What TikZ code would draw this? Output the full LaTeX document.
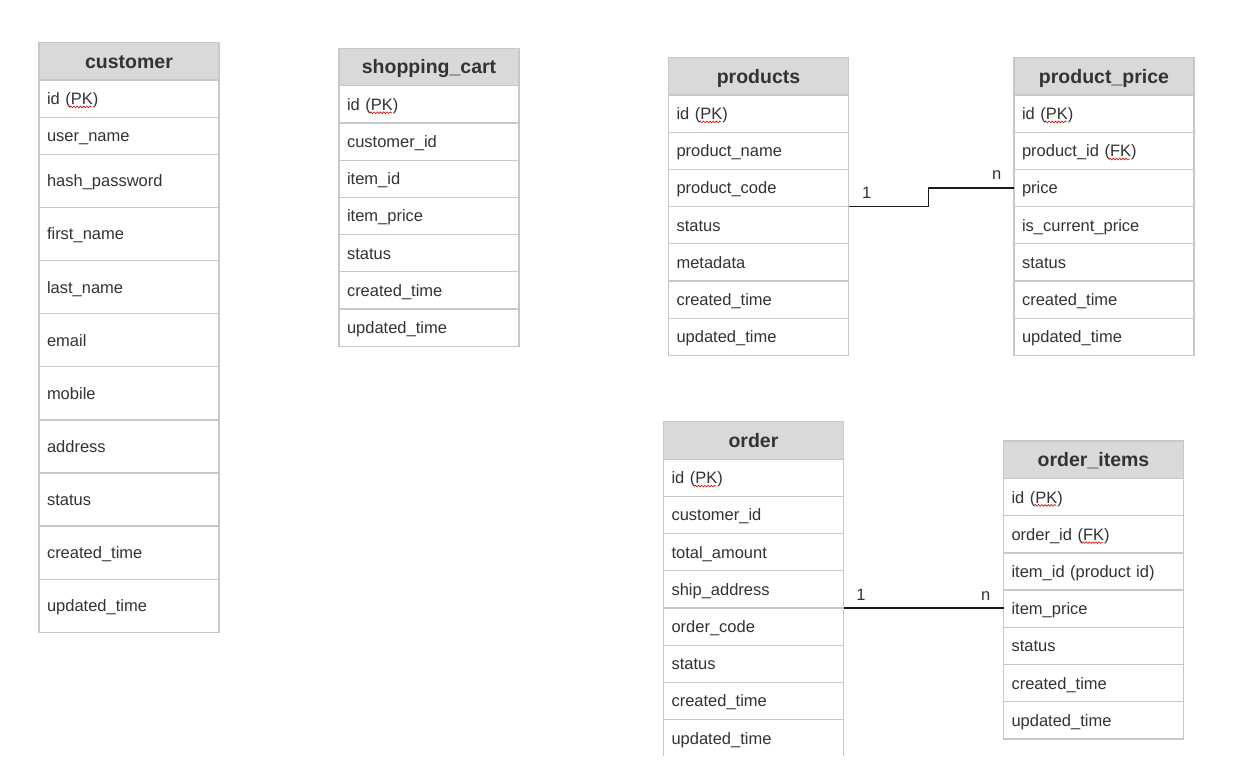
\documentclass[tikz,border=0pt]{standalone}
\usepackage{fontspec}
\setmainfont{Liberation Sans}
\usetikzlibrary{decorations.pathmorphing,calc}
\definecolor{hdr}{HTML}{D9D9D9}
\definecolor{bdr}{HTML}{C8C8C8}
\definecolor{txt}{HTML}{333333}
\definecolor{lnk}{HTML}{1A1A1A}
\newcommand\sqg[3]{\draw[squig] ([xshift=#2pt,yshift=-2.4pt]#1.base west) -- ++(#3,0);}
\begin{document}
\begin{tikzpicture}[x=1pt,y=-1pt,
  cell/.style={rectangle, draw=bdr, line width=1.3pt, fill=white, outer sep=0pt,
    inner xsep=8pt, inner ysep=0pt, minimum width=180pt, text width=164pt,
    align=left, text=txt, font=\fontsize{16.5}{19}\selectfont,
    text height=11.8pt, text depth=0pt, anchor=north west},
  hd/.style={cell, fill=hdr, align=center, font=\bfseries\fontsize{19.5}{22}\selectfont,
    text height=13.6pt, minimum height=37.5pt},
  r/.style={minimum height=37.2pt},
  rb/.style={minimum height=53.1pt},
  lbl/.style={text=txt, font=\fontsize{16.5}{19}\selectfont, inner sep=0pt, anchor=base},
  link/.style={draw=lnk, line width=1.3pt},
  squig/.style={draw=red!85!black, line width=0.6pt, decorate,
    decoration={snake, amplitude=0.9pt, segment length=3.2pt}}
]
\fill[white] (0,0) rectangle (1237,763);
\useasboundingbox (0,0) rectangle (1237,763);

% customer
\node[hd] (c0) at (39,42.5) {customer};
\node[cell,r] (c1) at (c0.south west) {id (PK)};
\node[cell,r] (c2) at (c1.south west) {user\_name};
\node[cell,rb] (c3) at (c2.south west) {hash\_password};
\node[cell,rb] (c4) at (c3.south west) {first\_name};
\node[cell,rb] (c5) at (c4.south west) {last\_name};
\node[cell,rb] (c6) at (c5.south west) {email};
\node[cell,rb] (c7) at (c6.south west) {mobile};
\node[cell,rb] (c8) at (c7.south west) {address};
\node[cell,rb] (c9) at (c8.south west) {status};
\node[cell,rb] (c10) at (c9.south west) {created\_time};
\node[cell,rb] (c11) at (c10.south west) {updated\_time};
\sqg{c1}{30.9}{22}

% shopping_cart
\node[hd] (s0) at (339,48.3) {shopping\_cart};
\node[cell,r] (s1) at (s0.south west) {id (PK)};
\node[cell,r] (s2) at (s1.south west) {customer\_id};
\node[cell,r] (s3) at (s2.south west) {item\_id};
\node[cell,r] (s4) at (s3.south west) {item\_price};
\node[cell,r] (s5) at (s4.south west) {status};
\node[cell,r] (s6) at (s5.south west) {created\_time};
\node[cell,r] (s7) at (s6.south west) {updated\_time};
\sqg{s1}{30.9}{22}

% products
\node[hd] (p0) at (668.5,57.5) {products};
\node[cell,r] (p1) at (p0.south west) {id (PK)};
\node[cell,r] (p2) at (p1.south west) {product\_name};
\node[cell,r] (p3) at (p2.south west) {product\_code};
\node[cell,r] (p4) at (p3.south west) {status};
\node[cell,r] (p5) at (p4.south west) {metadata};
\node[cell,r] (p6) at (p5.south west) {created\_time};
\node[cell,r] (p7) at (p6.south west) {updated\_time};
\sqg{p1}{30.9}{22}

% product_price
\node[hd] (pp0) at (1014,57.5) {product\_price};
\node[cell,r] (pp1) at (pp0.south west) {id (PK)};
\node[cell,r] (pp2) at (pp1.south west) {product\_id (FK)};
\node[cell,r] (pp3) at (pp2.south west) {price};
\node[cell,r] (pp4) at (pp3.south west) {is\_current\_price};
\node[cell,r] (pp5) at (pp4.south west) {status};
\node[cell,r] (pp6) at (pp5.south west) {created\_time};
\node[cell,r] (pp7) at (pp6.south west) {updated\_time};
\sqg{pp1}{30.9}{22}
\sqg{pp2}{95.1}{21}

% order (cut off at the bottom)
\begin{scope}
\clip (600,400) rectangle (900,755.6);
\node[hd] (o0) at (663.5,421.7) {order};
\node[cell,r] (o1) at (o0.south west) {id (PK)};
\node[cell,r] (o2) at (o1.south west) {customer\_id};
\node[cell,r] (o3) at (o2.south west) {total\_amount};
\node[cell,r] (o4) at (o3.south west) {ship\_address};
\node[cell,r] (o5) at (o4.south west) {order\_code};
\node[cell,r] (o6) at (o5.south west) {status};
\node[cell,r] (o7) at (o6.south west) {created\_time};
\node[cell,r] (o8) at (o7.south west) {updated\_time};
\sqg{o1}{30.9}{22}
\end{scope}

% order_items
\node[hd] (oi0) at (1003.5,441) {order\_items};
\node[cell,r] (oi1) at (oi0.south west) {id (PK)};
\node[cell,r] (oi2) at (oi1.south west) {order\_id (FK)};
\node[cell,r] (oi3) at (oi2.south west) {item\_id (product id)};
\node[cell,r] (oi4) at (oi3.south west) {item\_price};
\node[cell,r] (oi5) at (oi4.south west) {status};
\node[cell,r] (oi6) at (oi5.south west) {created\_time};
\node[cell,r] (oi7) at (oi6.south west) {updated\_time};
\sqg{oi1}{30.9}{22}
\sqg{oi2}{78.6}{21}

% connectors
\draw[link] (p3.south east) -- ++(80,0) |- (pp3.west);
\draw[link] (o4.south east) -- (o4.south east -| oi4.west);

% cardinality labels
\node[lbl] (l1) at (866.7,198.3) {1};
\node[lbl] (n1) at (996.7,179) {n};
\node[lbl] (l2) at (861,600) {1};
\node[lbl] (n2) at (985.7,600) {n};
\end{tikzpicture}
\end{document}
